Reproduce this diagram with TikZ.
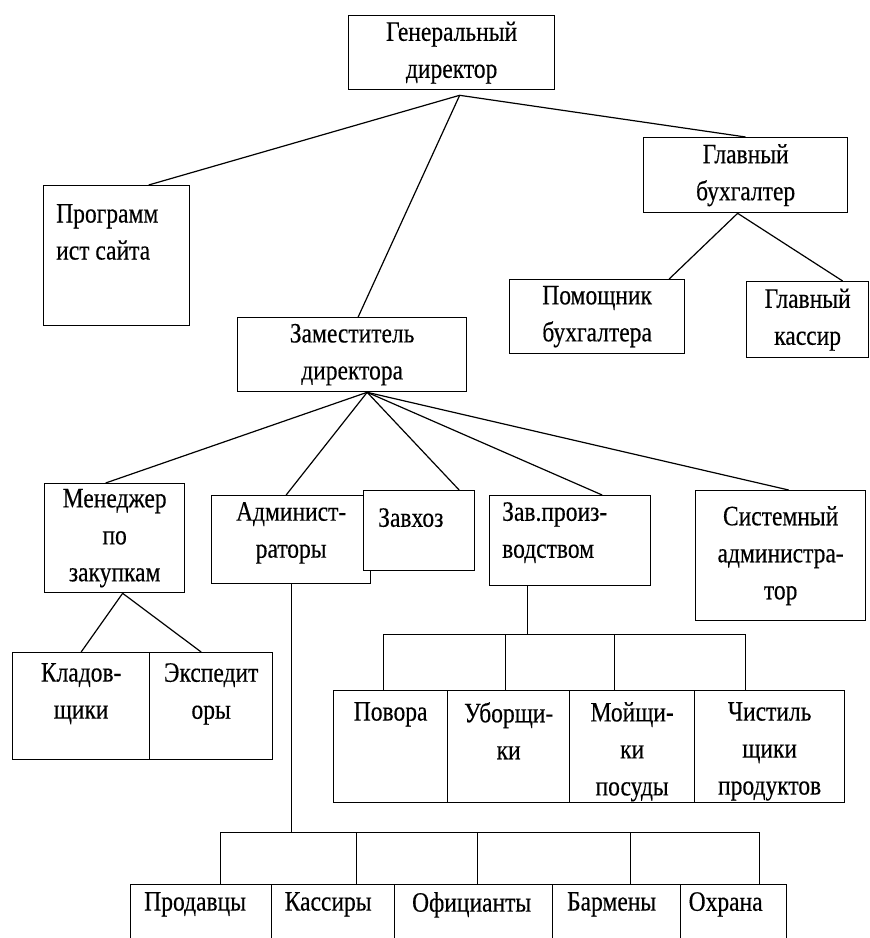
\documentclass[tikz,border=0pt]{standalone}
\usepackage{fontspec}
\setmainfont{Liberation Serif}[FakeStretch=0.84, FakeBold=0.3]
\usepackage{tikz}
\usetikzlibrary{positioning}
\tikzset{
  unit/.style={draw=black, fill=white, line width=1.3pt, inner sep=0pt, anchor=north west,
    align=center, font=\fontsize{28}{37}\selectfont},
  lbl/.style={inner sep=0pt, align=center, font=\fontsize{28}{37}\selectfont},
  link/.style={draw=black, line width=1.2pt}
}
\begin{document}
\begin{tikzpicture}[x=1pt, y=-1pt]
\useasboundingbox (0,0) rectangle (870,938);
\clip (0,0) rectangle (870,938);
\node[unit, minimum width=206, minimum height=74] (gd) at (348,15) {Генеральный\\директор};
\node[unit, minimum width=146, minimum height=140] (prog) at (43,185) {};
\node[unit, minimum width=204, minimum height=75] (gb) at (643,137) {Главный\\бухгалтер};
\node[unit, minimum width=175, minimum height=74] (pom) at (509,279) {Помощник\\бухгалтера};
\node[unit, minimum width=122, minimum height=76] (kassir) at (746,281) {Главный\\кассир};
\node[unit, minimum width=229, minimum height=74] (zam) at (237,317) {Заместитель\\директора};
\node[unit, minimum width=140, minimum height=109] (men) at (44,483) {Менеджер\\по\\закупкам};
\node[unit, minimum width=159, minimum height=88] (adm) at (211,495) {};
\node[unit, minimum width=111, minimum height=80] (zavhoz) at (363,490) {};
\node[unit, minimum width=161, minimum height=90] (zp) at (489,495) {};
\node[unit, minimum width=170, minimum height=130] (sys) at (695,490) {Системный\\администра-\\тор};
\node[unit, minimum width=137, minimum height=107] (klad) at (12,652) {};
\node[unit, minimum width=123, minimum height=107] (eksp) at (149,652) {};
\node[unit, minimum width=114, minimum height=112] (pov) at (333,690) {};
\node[unit, minimum width=122, minimum height=112] (ubor) at (447,690) {};
\node[unit, minimum width=125, minimum height=112] (moy) at (569,690) {};
\node[unit, minimum width=150, minimum height=112] (chist) at (694,690) {};
\node[unit, minimum width=141, minimum height=90] (prod) at (130,884) {};
\node[unit, minimum width=123, minimum height=90] (kass) at (271,884) {};
\node[unit, minimum width=158, minimum height=90] (ofic) at (394,884) {};
\node[unit, minimum width=128, minimum height=90] (barm) at (552,884) {};
\node[unit, minimum width=106, minimum height=90] (ohr) at (680,884) {};
\node[lbl, align=left, below right=19pt and 13pt of prog.north west] (progt) {Программ\\ист сайта};
\node[lbl, below=7pt of adm.north] (admt) {Админист-\\раторы};
\node[lbl, below right=18pt and 15pt of zavhoz.north west] (zavhozt) {Завхоз};
\node[lbl, align=left, below right=7pt and 13pt of zp.north west] (zpt) {Зав.произ-\\водством};
\node[lbl, below=11pt of klad.north] (kladt) {Кладов-\\щики};
\node[lbl, below=11pt of eksp.north] (ekspt) {Экспедит\\оры};
\node[lbl, below=12pt of pov.north] (povt) {Повора};
\node[lbl, below=12pt of ubor.north] (ubort) {Уборщи-\\ки};
\node[lbl, below=12pt of moy.north] (moyt) {Мойщи-\\ки\\посуды};
\node[lbl, below=12pt of chist.north] (chistt) {Чистиль\\щики\\продуктов};
\foreach \c/\t/\dx in {prod/Продавцы/-6,kass/Кассиры/-5,ofic/Официанты/-2,barm/Бармены/-5,ohr/Охрана/-8}
  \node[lbl, below=8pt of \c.north, xshift=\dx] (\c t) {\t};
\draw[link] ([xshift=8,yshift=-5]gd.south) -- ([xshift=32]prog.north);
\draw[link] ([xshift=8,yshift=-5]gd.south) -- ([xshift=6]zam.north);
\draw[link] ([xshift=8,yshift=-5]gd.south) -- (gb.north);
\draw[link] ([xshift=-8]gb.south) -- ([xshift=72]pom.north);
\draw[link] ([xshift=-8]gb.south) -- ([xshift=35]kassir.north);
\foreach \c/\dx in {men/-9,adm/-5,zavhoz/40,zp/32,sys/8}
  \draw[link] ([xshift=15]zam.south) -- ([xshift=\dx]\c.north);
\draw[link] ([xshift=8]men.south) -- (klad.north);
\draw[link] ([xshift=8]men.south) -- ([xshift=-10]eksp.north);
\draw[link] ([xshift=-43]zp.south) -- ++(0,48) coordinate (zpbus);
\foreach \c/\dx in {pov/-7,ubor/-3,moy/-18,chist/-24}
  \draw[link] (zpbus) -| ([xshift=\dx]\c.north);
\draw[link] (adm.south) -- ++(0,248) coordinate (admbus);
\foreach \c/\dx in {prod/19,kass/23,ofic/4,barm/14,ohr/26}
  \draw[link] (admbus) -| ([xshift=\dx]\c.north);
\end{tikzpicture}
\end{document}
